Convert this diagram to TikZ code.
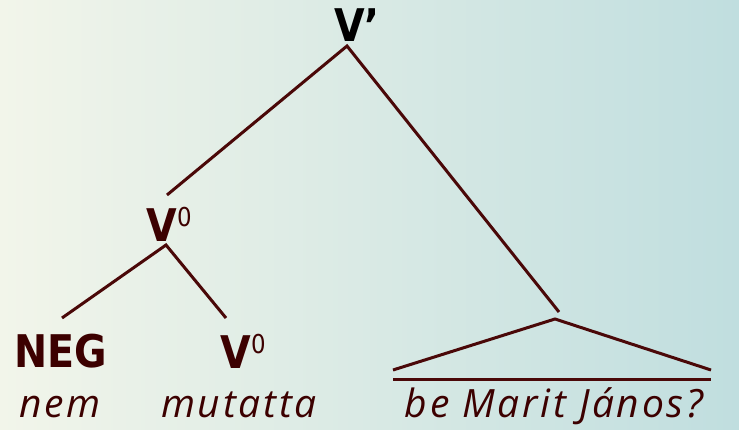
\documentclass[tikz,border=0pt]{standalone}
\usepackage{fontspec}
\setmainfont{DejaVu Sans}
\newfontfamily\tbold[FakeStretch=0.88]{DejaVu Sans}
\newfontfamily\titalic[LetterSpace=7]{Open Sans}
\definecolor{ink}{HTML}{3C0000}
\definecolor{linec}{HTML}{4A0808}
\definecolor{bgleft}{HTML}{F2F5EA}
\definecolor{bgmid}{HTML}{E4ECD9}
\definecolor{bgright}{HTML}{C0DEDF}
\newcommand{\Vzero}{{\tbold\bfseries V}\raisebox{15pt}{\tbold\mdseries\fontsize{26}{26}\selectfont 0}}
\tikzset{
  cat/.style={font=\tbold\bfseries\fontsize{45}{45}\selectfont, text=ink, inner sep=0pt, anchor=base},
  word/.style={font=\titalic\itshape\fontsize{39}{39}\selectfont, text=ink, inner sep=0pt, text depth=0pt, anchor=base},
  branch/.style={draw=linec, line width=3pt}
}
\begin{document}
\begin{tikzpicture}[x=1pt,y=-1pt]
\useasboundingbox (0,0) rectangle (739,430);
\shade[left color=bgleft, middle color=bgmid, right color=bgright] (0,0) rectangle (739,430);
% nodes
\node[cat, text=black] (vbar) at (357,42) {V’};
\node[cat] (v0top) at (169,242) {\Vzero};
\node[cat] (neg) at (61,367) {NEG};
\node[cat] (v0low) at (243,368) {\Vzero};
\node[word] (nem) at (60,417) {nem};
\node[word] (mut) at (239,417) {mutatta};
\node[word] (bmj) at (554,417) {be Marit János?};
% connector end points
\coordinate (vbar-b) at (347,46);
\coordinate (v0top-t) at (167,195);
\coordinate (v0top-b) at (166,245);
\coordinate (neg-t) at (62,318);
\coordinate (v0low-t) at (226,318);
\coordinate (tri-top) at (559,312);
\coordinate (tri-apex) at (555,319);
\coordinate (tri-l) at (393,370);
\coordinate (tri-r) at (711,370);
\coordinate (ul-l) at (393,379);
\coordinate (ul-r) at (711,379);
% branches
\draw[branch] (v0top-t) -- (vbar-b) -- (tri-top);
\draw[branch] (neg-t) -- (v0top-b) -- (v0low-t);
\draw[branch] (tri-l) -- (tri-apex) -- (tri-r);
\draw[branch] (ul-l) -- (ul-r);
\end{tikzpicture}
\end{document}
